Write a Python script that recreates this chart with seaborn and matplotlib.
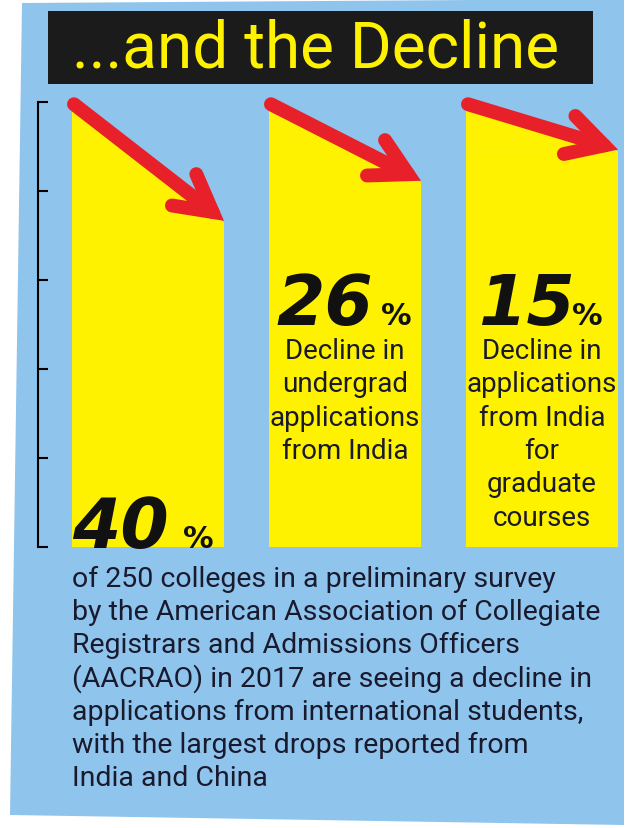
import matplotlib
matplotlib.use("Agg")
import matplotlib.pyplot as plt
import seaborn as sns
import pandas as pd
from matplotlib.patches import Polygon, Rectangle

categories = ["colleges", "undergrad", "graduate"]
bar_left_top = [98, 98, 98]
bar_right_top = [73, 82, 89]
big_numbers = ["40", "26", "15"]
captions = ["", "Decline in\nundergrad\napplications\nfrom India",
            "Decline in\napplications\nfrom India\nfor\ngraduate\ncourses"]
y_ticks = [0, 20, 40, 60, 80, 100]
title = "...and the Decline"
footnote = ("of 250 colleges in a preliminary survey\n"
            "by the American Association of Collegiate\n"
            "Registrars and Admissions Officers\n"
            "(AACRAO) in 2017 are seeing a decline in\n"
            "applications from international students,\n"
            "with the largest drops reported from\n"
            "India and China")

W, H = 630, 829
BLUE = "#8FC4EC"; YEL = "#FFF200"; RED = "#E8202A"; INK = "#1a1a2e"
fig = plt.figure(figsize=(W/100, H/100), dpi=100)
fig.patch.set_facecolor("white")

def fx(px): return px / W
def fy(py): return 1 - py / H
def dx(px): return (px - 148) / 197
def dy(py): return (548 - py) / 4.45

fig.patches.append(Polygon([(fx(22), fy(4)), (fx(624), fy(0)), (fx(624), fy(826)),
                            (fx(10), fy(816))], closed=True, transform=fig.transFigure,
                           facecolor=BLUE, edgecolor="none", zorder=-2))
fig.patches.append(Rectangle((fx(48), fy(85)), fx(545), 73/H, transform=fig.transFigure,
                             facecolor="#1b1b1b", edgecolor="none", zorder=-1))
fig.text(fx(316), fy(50), title, color=YEL, fontsize=46, ha="center", va="center",
         family="Roboto")

ax = fig.add_axes([fx(38), fy(548), fx(592), 445/H])
ax.set_zorder(3)
ax.set_facecolor("none")
df = pd.DataFrame({"cat": categories, "h": bar_right_top})
bw = 152/197
sns.barplot(data=df, x="cat", y="h", color=YEL, width=bw, saturation=1, ax=ax,
            edgecolor="none")
ax.set_xlim(-110/197, 482/197)
ax.set_ylim(0, 100)
for i, (lt, rt) in enumerate(zip(bar_left_top, bar_right_top)):
    x0, x1 = i - bw/2, i + bw/2
    ax.add_patch(Polygon([(x0, rt), (x0, lt), (x1, rt)], closed=True,
                         facecolor=YEL, edgecolor="none", clip_on=False))
    ax.annotate("", xy=(x1, rt + 0.3), xytext=(x0 + 0.01, lt + 1.5),
                arrowprops=dict(arrowstyle="->,head_length=1.0,head_width=0.55",
                                color=RED, lw=10, shrinkA=0, shrinkB=0,
                                mutation_scale=26,
                                capstyle="round", joinstyle="miter"),
                annotation_clip=False)

num_px = [(72, 548, 183), (276, 325, 381), (478, 325, 572)]
for i, (xl, yb, xp) in enumerate(num_px):
    ax.text(dx(xl), dy(yb), big_numbers[i], fontsize=50, fontweight="heavy",
            style="italic", ha="left", va="baseline", color="#111", family="DejaVu Sans")
    ax.text(dx(xp), dy(yb), "%", fontsize=22, fontweight="bold", ha="left",
            va="baseline", color="#111", family="DejaVu Sans")
for i in (1, 2):
    ax.text(i, dy(338), captions[i], fontsize=20, ha="center", va="top", color=INK,
            linespacing=1.3, family="Roboto")

for s in ["top", "right", "bottom"]:
    ax.spines[s].set_visible(False)
ax.spines["left"].set_linewidth(1.5)
ax.set_yticks(y_ticks)
ax.set_yticklabels([])
ax.tick_params(axis="y", direction="in", length=7, width=1.5)
ax.set_xticks([])
ax.set_xlabel(""); ax.set_ylabel("")

fig.text(fx(72), fy(566), footnote, fontsize=20.5, ha="left", va="top", color=INK,
         linespacing=1.27, family="Roboto")
fig.savefig("out.png", dpi=100)
